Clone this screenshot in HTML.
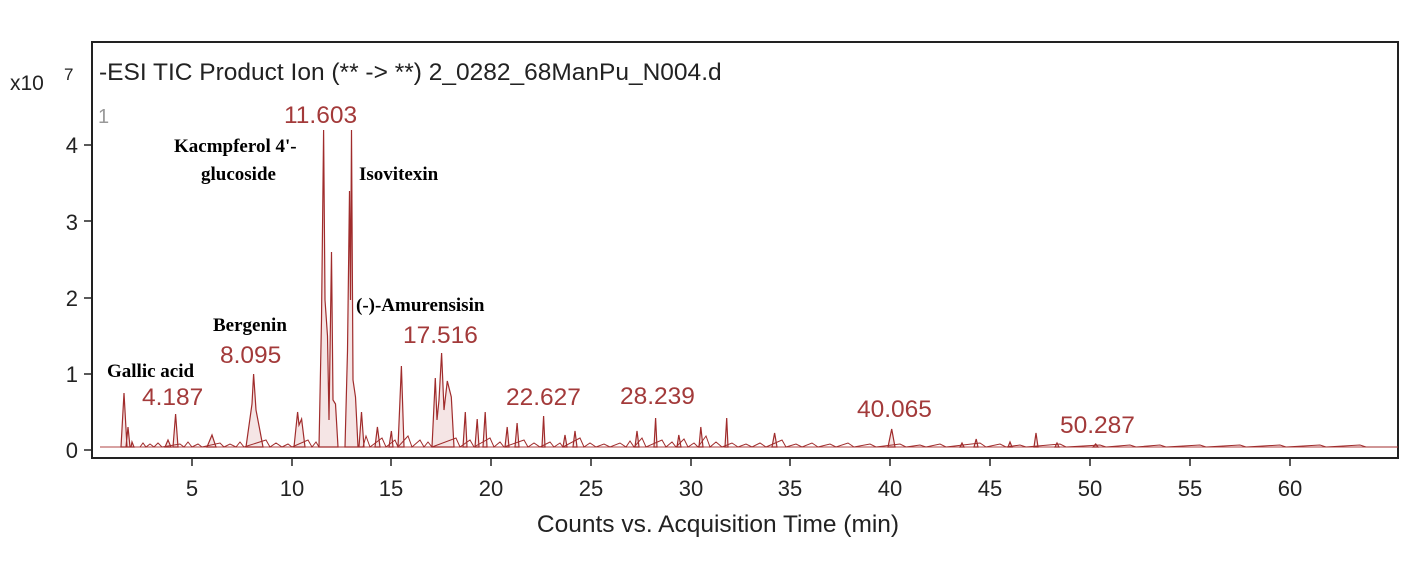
<!DOCTYPE html>
<html><head><meta charset="utf-8"><style>
html,body{margin:0;padding:0;background:#fff;}
svg{display:block;}
text{font-family:"Liberation Sans",sans-serif;}
.b{font-family:"Liberation Serif",serif;font-weight:bold;font-size:19px;fill:#000;}
.r{fill:#a33a3a;font-size:24.5px;}
</style></head><body>
<svg width="1428" height="562" viewBox="0 0 1428 562" xmlns="http://www.w3.org/2000/svg">
<rect x="0" y="0" width="1428" height="562" fill="#fff"/>
<rect x="92" y="42" width="1306" height="416" fill="none" stroke="#222" stroke-width="2"/>
<text x="10" y="90" font-size="21" fill="#222">x10</text>
<text x="64" y="80" font-size="17" fill="#222">7</text>
<text x="99" y="80" font-size="24.5" fill="#222">-ESI TIC Product Ion (** -&gt; **) 2_0282_68ManPu_N004.d</text>
<text x="98" y="123" font-size="20" fill="#999">1</text>
<g font-size="22" fill="#222" text-anchor="end">
<text x="78" y="458">0</text><text x="78" y="382">1</text><text x="78" y="306">2</text><text x="78" y="230">3</text><text x="78" y="153">4</text>
</g>
<g stroke="#222" stroke-width="1.5">
<line x1="84" y1="450" x2="92" y2="450"/><line x1="84" y1="374" x2="92" y2="374"/><line x1="84" y1="298" x2="92" y2="298"/><line x1="84" y1="221" x2="92" y2="221"/><line x1="84" y1="145" x2="92" y2="145"/>
<line x1="192" y1="458" x2="192" y2="466"/><line x1="292" y1="458" x2="292" y2="466"/><line x1="391" y1="458" x2="391" y2="466"/><line x1="491" y1="458" x2="491" y2="466"/><line x1="591" y1="458" x2="591" y2="466"/><line x1="691" y1="458" x2="691" y2="466"/><line x1="790" y1="458" x2="790" y2="466"/><line x1="890" y1="458" x2="890" y2="466"/><line x1="990" y1="458" x2="990" y2="466"/><line x1="1090" y1="458" x2="1090" y2="466"/><line x1="1190" y1="458" x2="1190" y2="466"/><line x1="1290" y1="458" x2="1290" y2="466"/>
</g>
<g font-size="22" fill="#222" text-anchor="middle">
<text x="192" y="496">5</text><text x="292" y="496">10</text><text x="391" y="496">15</text><text x="491" y="496">20</text><text x="591" y="496">25</text><text x="691" y="496">30</text><text x="790" y="496">35</text><text x="890" y="496">40</text><text x="990" y="496">45</text><text x="1090" y="496">50</text><text x="1190" y="496">55</text><text x="1290" y="496">60</text>
</g>
<text x="718" y="532" font-size="24.5" fill="#222" text-anchor="middle">Counts vs. Acquisition Time (min)</text>
<line x1="100" y1="447" x2="1398" y2="447" stroke="#b04444" stroke-width="1"/>
<g fill="#c87070" fill-opacity="0.18" stroke="#a02c2c" stroke-width="1.2">
<path d="M121 447L124 393L127 447Z M126 447L128 427L130 447Z M131 447L132 442L134 447Z M165 447L168 440L171 447Z M173 447L175.6 414L178 447Z M207 447L212 435L216 447Z M246 447L252 404L253.6 374L256 410L260 431L263 447Z M294 447L297.6 412L299 425L301.6 419L305 447Z"/>
<path d="M319 447L321.5 320L323.6 130L325 300L327.5 336L329 420L331.5 252L333 400L335.5 404L338 447Z M345 447L347.5 351L349.5 191L350.5 300L351.5 130L353 380L355.5 397L358 447Z M359 447L361.5 412L364 447Z M375 447L377.4 427L380 447Z M389 447L391.4 431L393 447Z M398 447L401.4 366L404 447Z"/>
<path d="M432 447L435.3 378L437 420L439 400L441.6 353L444 410L447.3 381L451.3 397L454 447Z M463 447L465.3 412L467 447Z M475 447L477.2 419L479 447Z M483 447L485.2 412L487 447Z M505 447L507.2 427L509 447Z M515 447L517.1 423L519 447Z M542 447L543.6 416L545 447Z M563 447L565 435L567 447Z M573 447L575 431L577 447Z"/>
<path d="M635 447L637 431L639 447Z M654 447L655.6 418L657 447Z M677 447L678.8 435L681 447Z M699 447L700.8 427L703 447Z M725 447L726.7 418L728 447Z M772 447L774.6 433L777 447Z M888 447L891.7 429L895 447Z M974 447L976.2 439L978 447Z M1034 447L1036 433L1038 447Z M1093 447L1095.7 444L1098 447Z M1008 447L1010 442L1012 447Z M960 447L962 443L964 447Z M1055 447L1057 443L1059 447Z"/>
</g>
<polyline fill="none" stroke="#a02c2c" stroke-width="1" points="140,447 143,443 146,447 150,444 154,447 158,443 162,447 180,444 184,447 188,442 192,447 198,444 202,447 220,443 224,447 230,444 236,447 240,442 244,447 266,440 270,447 276,443 282,447 288,444 292,447 308,440 312,447 316,442 319,447 363,447 366,436 370,447 382,438 386,447 395,440 398,447 408,436 412,447 420,440 424,447 428,442 432,447 456,438 460,447 470,440 474,447 490,438 494,447 500,442 504,447 524,440 528,447 534,443 540,447 550,442 554,447 560,443 563,447 580,438 584,447 590,443 596,447 604,444 610,447 620,443 626,447 630,441 634,447 642,438 646,447 662,440 666,447 672,442 676,447 684,439 688,447 694,443 698,447 706,436 710,447 716,442 722,447 732,443 738,447 746,444 752,447 760,443 766,447 782,440 786,447 796,444 802,447 812,443 818,447 830,444 836,447 848,443 854,447 870,444 876,447 900,444 906,447 920,445 926,447 940,444 946,447 980,443 986,447 1000,444 1006,447 1020,445 1026,447 1060,444 1066,447 1100,445 1106,447 1130,445 1136,447 1160,445 1166,447 1200,445 1206,447 1240,445 1246,447 1280,445 1286,447 1320,445 1326,447 1360,445 1366,447 1398,447"/>
<g class="r">
<text x="284" y="123">11.603</text>
<text x="220" y="363">8.095</text>
<text x="142" y="405">4.187</text>
<text x="403" y="343">17.516</text>
<text x="506" y="405">22.627</text>
<text x="620" y="404">28.239</text>
<text x="857" y="417">40.065</text>
<text x="1060" y="433">50.287</text>
</g>
<text class="b" x="174" y="152">Kacmpferol 4'-</text>
<text class="b" x="201" y="180">glucoside</text>
<text class="b" x="359" y="180">Isovitexin</text>
<text class="b" x="213" y="331">Bergenin</text>
<text class="b" x="107" y="377">Gallic acid</text>
<text class="b" x="356" y="311">(-)-Amurensisin</text>
</svg>
</body></html>
